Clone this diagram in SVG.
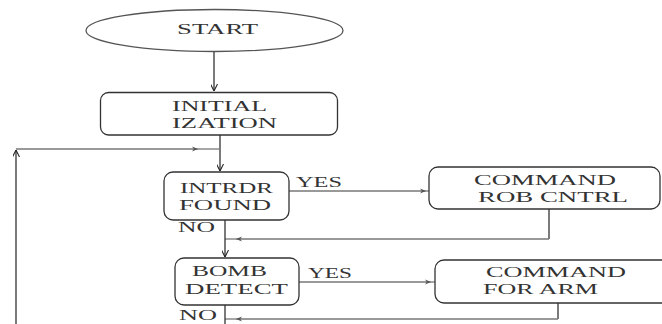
<svg xmlns="http://www.w3.org/2000/svg" width="662" height="324" viewBox="0 0 662 324">
<style>
.box{fill:#fff;stroke:#333;stroke-width:1.3}
.ell{fill:#fff;stroke:#555;stroke-width:1.3}
.t{font-family:"Liberation Serif","Times New Roman",serif;font-size:15px;fill:#333}
.c{fill:none;stroke:#333;stroke-width:1.3}
.g{fill:none;stroke:#777;stroke-width:1.3}
</style>
<defs>
<marker id="v" viewBox="0 0 10 10" refX="10" refY="5" markerWidth="7" markerHeight="7" orient="auto" markerUnits="userSpaceOnUse">
<path d="M0,0 L10,5 L0,10" fill="none" stroke="#222" stroke-width="1.5"/>
</marker>
<marker id="f" viewBox="0 0 10 10" refX="10" refY="5" markerWidth="8" markerHeight="6" orient="auto" markerUnits="userSpaceOnUse">
<path d="M0,1 L10,5 L0,9 L3,5 Z" fill="#555"/>
</marker>
</defs>
<rect width="662" height="324" fill="#fff"/>
<g id="connectors">
<path class="c" d="M214,52 V91" marker-end="url(#v)"/>
<path class="c" d="M220,135 V171" marker-end="url(#v)"/>
<path class="c" d="M16,324 V150" marker-end="url(#v)"/>
<path class="g" d="M16,149 H198" marker-end="url(#f)"/>
<path class="g" d="M198,149 H220"/>
<path class="g" d="M289,191 H426" marker-end="url(#f)"/>
<path class="g" d="M426,191 H429"/>
<path class="c" d="M549,209 V239"/>
<path class="g" d="M549,239 H236" marker-end="url(#f)"/>
<path class="g" d="M236,239 H225"/>
<path class="c" d="M225,220 V257" marker-end="url(#v)"/>
<path class="g" d="M299,282 H431" marker-end="url(#f)"/>
<path class="g" d="M431,282 H435"/>
<path class="c" d="M558,303 V319"/>
<path class="g" d="M558,319 H236" marker-end="url(#f)"/>
<path class="g" d="M236,319 H225"/>
<path class="c" d="M225,305 V324"/>
<text class="t" x="296" y="187" textLength="46" lengthAdjust="spacingAndGlyphs">YES</text>
<text class="t" x="178" y="232" textLength="37" lengthAdjust="spacingAndGlyphs">NO</text>
<text class="t" x="308" y="278" textLength="44" lengthAdjust="spacingAndGlyphs">YES</text>
<text class="t" x="179" y="320" textLength="38" lengthAdjust="spacingAndGlyphs">NO</text>
</g>
<g id="start">
<ellipse class="ell" cx="214.5" cy="30.5" rx="128.5" ry="21"/>
<text class="t" x="177" y="34" textLength="81" lengthAdjust="spacingAndGlyphs">START</text>
</g>
<g id="init">
<rect class="box" x="100.5" y="92.5" width="237" height="42.5" rx="8"/>
<text class="t" x="172" y="111" textLength="95" lengthAdjust="spacingAndGlyphs">INITIAL</text>
<text class="t" x="172" y="128" textLength="105" lengthAdjust="spacingAndGlyphs">IZATION</text>
</g>
<g id="intrdr">
<rect class="box" x="164" y="172" width="125" height="48" rx="9"/>
<text class="t" x="180" y="193" textLength="93" lengthAdjust="spacingAndGlyphs">INTRDR</text>
<text class="t" x="179" y="210" textLength="92" lengthAdjust="spacingAndGlyphs">FOUND</text>
</g>
<g id="robcntrl">
<rect class="box" x="429" y="167" width="231" height="42" rx="9"/>
<text class="t" x="474" y="185" textLength="142" lengthAdjust="spacingAndGlyphs">COMMAND</text>
<text class="t" x="478" y="202" textLength="150" lengthAdjust="spacingAndGlyphs">ROB CNTRL</text>
</g>
<g id="bomb">
<rect class="box" x="175" y="258" width="124" height="47" rx="9"/>
<text class="t" x="192" y="276" textLength="75" lengthAdjust="spacingAndGlyphs">BOMB</text>
<text class="t" x="185" y="294" textLength="103" lengthAdjust="spacingAndGlyphs">DETECT</text>
</g>
<g id="arm">
<rect class="box" x="435" y="260" width="240" height="43" rx="9"/>
<text class="t" x="486" y="277" textLength="140" lengthAdjust="spacingAndGlyphs">COMMAND</text>
<text class="t" x="483" y="294" textLength="115" lengthAdjust="spacingAndGlyphs">FOR ARM</text>
</g>
</svg>
